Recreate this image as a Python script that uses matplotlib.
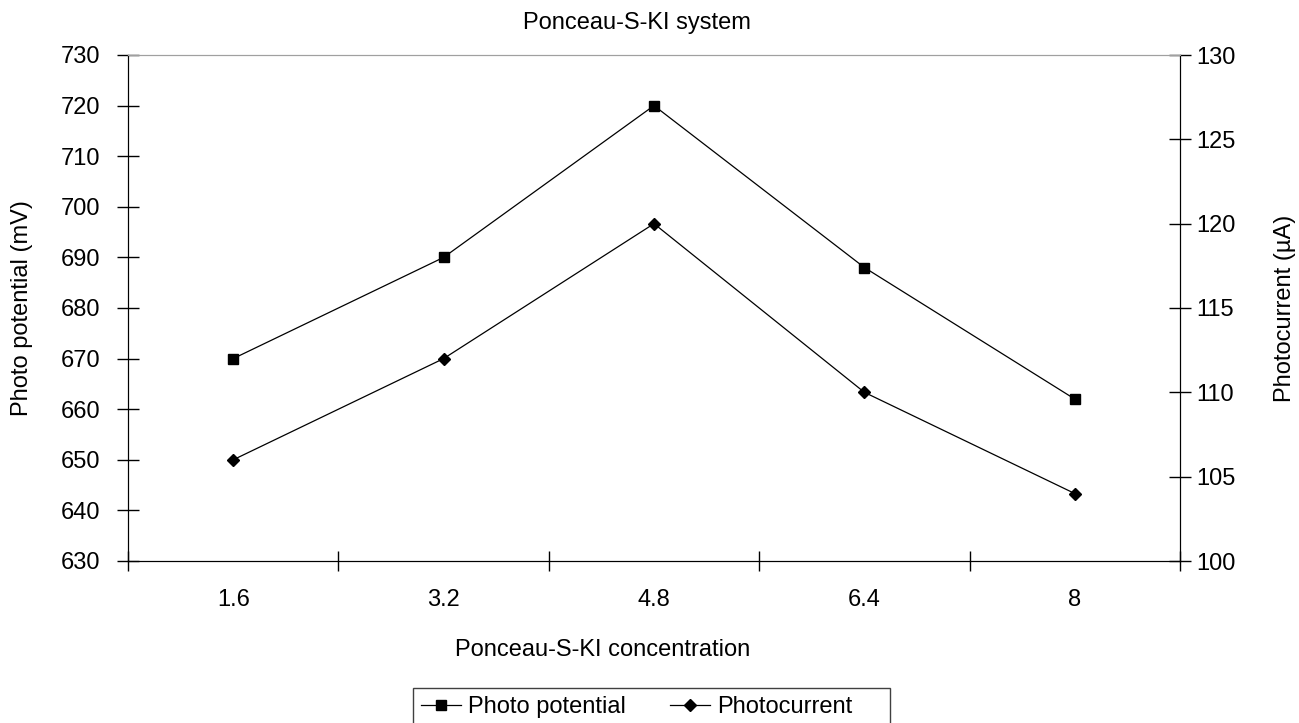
import matplotlib
matplotlib.use("Agg")
import matplotlib.pyplot as plt
from matplotlib.patches import Rectangle
from matplotlib.ticker import MultipleLocator, FixedLocator, NullFormatter

plt.rcParams['font.family'] = ['Liberation Sans', 'DejaVu Sans']

concentration = ["1.6", "3.2", "4.8", "6.4", "8"]
photo_potential = [670, 690, 720, 688, 662]
photocurrent = [106, 112, 120, 110, 104]

fs = 17
W, H = 1299, 723
fig = plt.figure(figsize=(W/100, H/100), dpi=100)
ax1 = fig.add_axes([128/W, 1-561/H, (1180-128)/W, (561-55)/H])
ax2 = ax1.twinx()

pos = list(range(1, len(concentration) + 1))
ax1.plot(pos, photo_potential, color="black", lw=0.9, marker="s", ms=7,
         label="Photo potential")
ax2.plot(pos, photocurrent, color="black", lw=0.9, marker="D", ms=6,
         label="Photocurrent")

ax1.set_xlim(0.5, len(pos) + 0.5)
ax1.set_ylim(630, 730)
ax2.set_ylim(100, 130)
ax1.yaxis.set_major_locator(MultipleLocator(10))
ax2.yaxis.set_major_locator(MultipleLocator(5))

# category axis: ticks between categories, labels at centres
ax1.xaxis.set_major_locator(FixedLocator([p - 0.5 for p in pos] + [pos[-1] + 0.5]))
ax1.xaxis.set_major_formatter(NullFormatter())
ax1.set_xticks(pos, minor=True)
ax1.set_xticklabels(concentration, minor=True)
ax1.tick_params(axis="x", which="minor", length=0, pad=20, labelsize=fs)
ax1.tick_params(axis="x", which="major", direction="inout", length=15, width=1)
ax1.tick_params(axis="y", direction="inout", length=16, width=1, labelsize=fs, pad=12)
ax2.tick_params(axis="y", direction="inout", length=16, width=1, labelsize=fs, pad=4)

for ax in (ax1, ax2):
    ax.spines["top"].set_color("#a0a0a0")
    for s in ("left", "right", "bottom"):
        ax.spines[s].set_color("black")

fig.text(22/W, 1-308/H, "Photo potential (mV)", fontsize=fs, rotation=90,
         ha="center", va="center")
fig.text(1285/W, 1-308/H, "Photocurrent (\u00b5A)", fontsize=fs, rotation=90,
         ha="center", va="center")
fig.text(603/W, 1-650/H, "Ponceau-S-KI concentration", fontsize=fs,
         ha="center", va="center")
fig.text(637/W, 1-23/H, "Ponceau-S-KI system", fontsize=fs,
         ha="center", va="center")

h1, l1 = ax1.get_legend_handles_labels()
h2, l2 = ax2.get_legend_handles_labels()
leg = fig.legend(h1 + h2, l1 + l2, ncol=2, loc="upper left",
                 bbox_to_anchor=(413/W, 1-688/H), fontsize=fs,
                 frameon=False, handlelength=1.7, handletextpad=0.3,
                 columnspacing=1.85, borderpad=0.35, borderaxespad=0)
# legend box, wider on the right like the original
fig.patches.append(Rectangle((413/W, 1-740/H), (890-413)/W, (740-688)/H,
                             transform=fig.transFigure, fill=False,
                             edgecolor="#404040", lw=1))

fig.savefig("out.png", dpi=100)
